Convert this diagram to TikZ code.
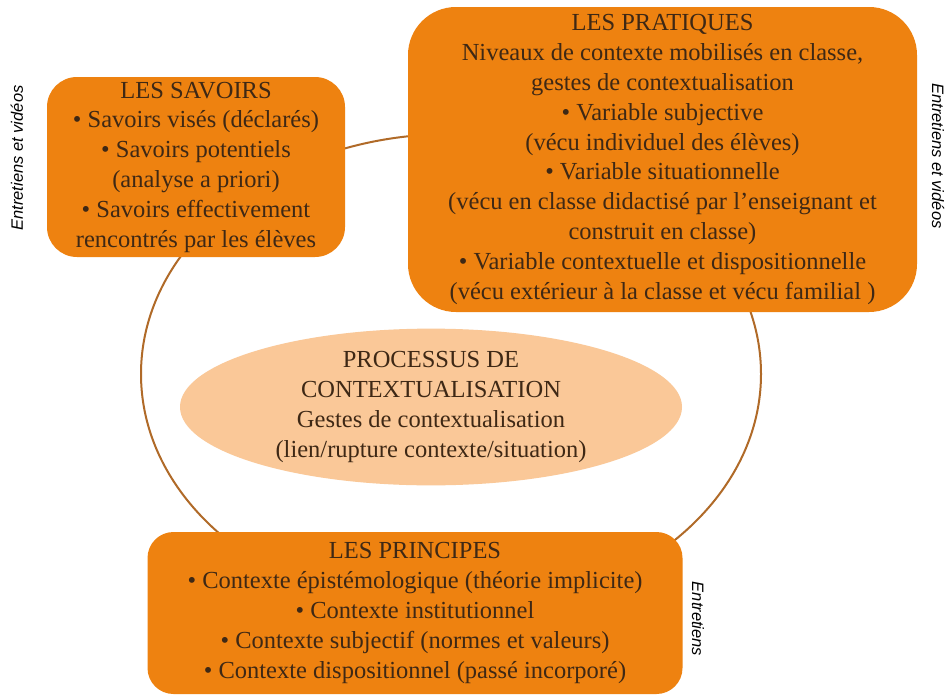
\documentclass[tikz,border=0pt]{standalone}
\usepackage{fontspec}
\setmainfont{Liberation Serif}
\setsansfont{Liberation Sans}
\usetikzlibrary{shapes.geometric}
\definecolor{boxorange}{HTML}{EE8210}
\definecolor{peach}{HTML}{FAC898}
\definecolor{ringbrown}{HTML}{B06A28}
\definecolor{txt}{HTML}{3E2815}
\tikzset{
  box/.style={draw=none, fill=boxorange, inner sep=0pt, align=center, text=txt,
    font=\fontsize{24.5}{29.8}\selectfont},
  side/.style={font=\fontsize{16.5}{19}\sffamily\itshape, text=black, inner sep=0pt},
  ring/.style={draw=ringbrown, line width=2pt}
}
\begin{document}
\begin{tikzpicture}[x=1pt,y=-1pt]
\useasboundingbox (0,0) rectangle (945,696);
\fill[white] (0,0) rectangle (945,696);
% big ring
\draw[ring] (451,374) ellipse [x radius=310, y radius=240];
% central ellipse
\node[ellipse, fill=peach, minimum width=502pt, minimum height=124pt, inner sep=0pt,
  align=center, text=txt, font=\fontsize{24.5}{29.8}\selectfont] (proc) at (431,407)
  {PROCESSUS DE\\CONTEXTUALISATION\\Gestes de contextualisation\\(lien/rupture contexte/situation)};
% boxes
\node[box, rounded corners=30pt, minimum width=298pt, minimum height=180pt] (sav) at (196,167)
  {LES SAVOIRS\\• Savoirs visés (déclarés)\\• Savoirs potentiels\\(analyse a priori)\\• Savoirs effectivement\\rencontrés par les élèves};
\node[box, rounded corners=48pt, minimum width=509pt, minimum height=305pt] (prat) at (662.5,159.5)
  {LES PRATIQUES\\Niveaux de contexte mobilisés en classe,\\gestes de contextualisation\\• Variable subjective\\(vécu individuel des élèves)\\• Variable situationnelle\\(vécu en classe didactisé par l’enseignant et\\construit en classe)\\• Variable contextuelle et dispositionnelle\\(vécu extérieur à la classe et vécu familial )};
\node[box, rounded corners=26pt, minimum width=535pt, minimum height=162pt] (princ) at (415,613)
  {LES PRINCIPES\\• Contexte épistémologique (théorie implicite)\\• Contexte institutionnel\\• Contexte subjectif (normes et valeurs)\\• Contexte dispositionnel (passé incorporé)};
% side labels
\node[side, rotate=90] (lsav) at (17,158) {Entretiens et vidéos};
\node[side, rotate=-90] (lprat) at (938,156) {Entretiens et vidéos};
\node[side, rotate=-90] (lprinc) at (698,619) {Entretiens};
\end{tikzpicture}
\end{document}
